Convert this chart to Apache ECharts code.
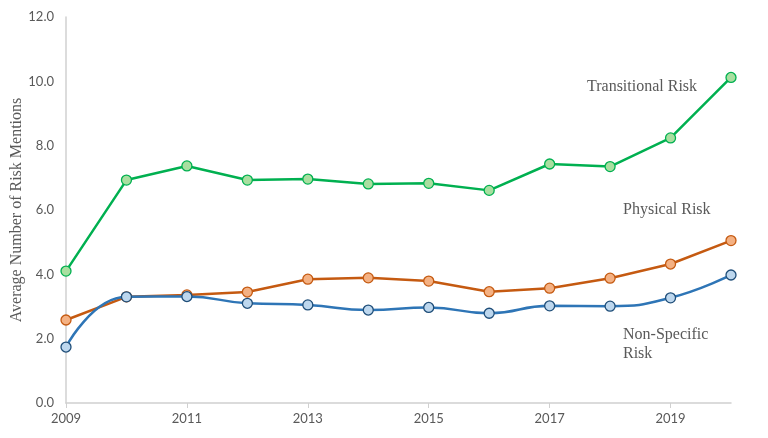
<!DOCTYPE html>
<html>
<head>
<meta charset="utf-8">
<script src="https://cdn.jsdelivr.net/npm/echarts@6/dist/echarts.min.js"></script>
<style>
  html, body { margin: 0; padding: 0; background: #fff; }
  #chart { width: 768px; height: 438px; }
</style>
</head>
<body>
<div id="chart"></div>
<script>
var years = ['2009', '2010', '2011', '2012', '2013', '2014', '2015', '2016', '2017', '2018', '2019', '2020'];
var transitional = [4.10, 6.93, 7.37, 6.93, 6.96, 6.81, 6.83, 6.61, 7.43, 7.35, 8.24, 10.12];
var physical = [2.58, 3.30, 3.36, 3.45, 3.85, 3.89, 3.79, 3.46, 3.57, 3.88, 4.32, 5.05];
var nonSpecific = [1.74, 3.30, 3.31, 3.10, 3.05, 2.89, 2.97, 2.79, 3.02, 3.01, 3.27, 3.98];

var chart = echarts.init(document.getElementById('chart'));

function lineSeries(name, data, line, fill, border, smooth) {
  return {
    name: name,
    type: 'line',
    data: data,
    smooth: smooth,
    symbol: 'circle',
    symbolSize: 10,
    lineStyle: { color: line, width: 2.5 },
    itemStyle: { color: fill, borderColor: border, borderWidth: 1.3 },
    z: smooth ? 3 : 2
  };
}

var serif = 'Liberation Serif';

var option = {
  animation: false,
  grid: { left: 66, right: 37, top: 17, bottom: 35, containLabel: false, outerBoundsMode: 'none' },
  xAxis: {
    type: 'category',
    data: years,
    boundaryGap: false,
    axisLine: { lineStyle: { color: '#d0d0d0', width: 1.5 } },
    axisTick: { show: true, interval: 1, length: 5, lineStyle: { color: '#d0d0d0' } },
    axisLabel: { interval: 1, color: '#595959', fontFamily: 'Lato', fontSize: 13, margin: 9 },
    splitLine: { show: false }
  },
  yAxis: {
    type: 'value',
    min: 0,
    max: 12,
    interval: 2,
    name: 'Average Number of Risk Mentions',
    nameLocation: 'middle',
    nameGap: 41,
    nameMoveOverlap: false,
    nameTextStyle: { fontFamily: serif, fontSize: 16, color: '#595959' },
    axisLine: { show: true, lineStyle: { color: '#d0d0d0', width: 1.5 } },
    axisTick: { show: false },
    splitLine: { show: false },
    axisLabel: {
      color: '#595959', fontFamily: 'Lato', fontSize: 13, margin: 12,
      formatter: function (v) { return v.toFixed(1); }
    }
  },
  graphic: [
    { type: 'text', left: 587, top: 79, style: { text: 'Transitional Risk', font: '16px ' + serif, fill: '#595959' } },
    { type: 'text', left: 623, top: 202, style: { text: 'Physical Risk', font: '16px ' + serif, fill: '#595959' } },
    { type: 'text', left: 623, top: 325, style: { text: 'Non-Specific\nRisk', font: '16px ' + serif, fill: '#595959', lineHeight: 19 } }
  ],
  series: [
    lineSeries('Transitional Risk', transitional, '#00B050', '#A9DFA0', '#00B050', false),
    lineSeries('Physical Risk', physical, '#C55A11', '#F4B183', '#C55A11', false),
    lineSeries('Non-Specific Risk', nonSpecific, '#2E75B6', '#BDD7EE', '#1F4E79', 0.5)
  ]
};

chart.setOption(option);
</script>
</body>
</html>
